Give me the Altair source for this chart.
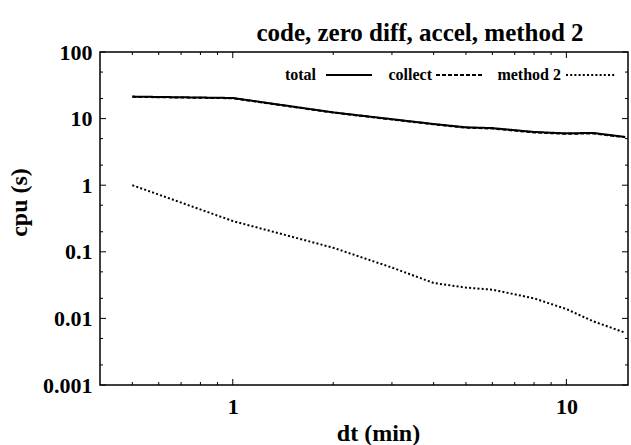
import altair as alt
import pandas as pd

# ---- data ----
dt = [0.5, 1, 2, 3, 4, 5, 6, 8, 10, 12, 15]
total = [21.4, 20.4, 12.4, 9.8, 8.3, 7.4, 7.2, 6.3, 6.0, 6.1, 5.3]
collect = [21.2, 20.2, 12.3, 9.7, 8.2, 7.3, 7.1, 6.2, 5.9, 6.0, 5.25]
method2 = [1.0, 0.29, 0.115, 0.058, 0.034, 0.029, 0.027, 0.020, 0.0138, 0.0091, 0.0061]
series = ["total", "collect", "method 2"]

x_major = [1, 10]
x_minor = [0.5, 0.6, 0.7, 0.8, 0.9, 2, 3, 4, 5, 6, 7, 8, 9]
y_major = [0.001, 0.01, 0.1, 1, 10, 100]
y_minor = [0.002, 0.005, 0.02, 0.05, 0.2, 0.5, 2, 5, 20, 50]

rows = []
for name, vals in zip(series, [total, collect, method2]):
    for d, v in zip(dt, vals):
        rows.append({"dt": d, "cpu": v, "series": name})
df = pd.DataFrame(rows)

W, H = 528, 333
FONT = "Liberation Serif"
X_DOM = [0.4, 15.3]
Y_DOM = [0.001, 100]
dash_range = [[1, 0], [4, 2], [2, 2.2]]

xs = alt.Scale(type="log", domain=X_DOM, nice=False)
ys = alt.Scale(type="log", domain=Y_DOM, nice=False)
x_axis = alt.Axis(values=x_major, format="~g", title="dt (min)", ticks=False,
                  domain=False, grid=False, labelPadding=11, titlePadding=4, titleX=278)
y_axis = alt.Axis(values=y_major, format="~g", title="cpu (s)", ticks=False,
                  domain=False, grid=False, labelPadding=8,
                  titleX=-81, titleY=150, titleBaseline="middle")

lines = alt.Chart(df).mark_line(color="black", strokeWidth=2, strokeCap="butt", clip=True).encode(
    x=alt.X("dt:Q", scale=xs, axis=x_axis),
    y=alt.Y("cpu:Q", scale=ys, axis=y_axis),
    strokeDash=alt.StrokeDash("series:N", scale=alt.Scale(domain=series, range=dash_range), legend=None),
    detail="series:N",
)

def tick_layer(vals, axis, length):
    d = pd.DataFrame({"v": vals})
    layers = []
    base = alt.Chart(d).mark_rule(color="black", strokeWidth=1)
    if axis == "x":
        xe = alt.X("v:Q", scale=xs, axis=x_axis)
        layers.append(base.encode(x=xe, y=alt.value(H), y2=alt.value(H - length)))
        layers.append(base.encode(x=xe, y=alt.value(0), y2=alt.value(length)))
    else:
        ye = alt.Y("v:Q", scale=ys, axis=y_axis)
        layers.append(base.encode(y=ye, x=alt.value(0), x2=alt.value(length)))
        layers.append(base.encode(y=ye, x=alt.value(W), x2=alt.value(W - length)))
    return layers

ticks = []
ticks += tick_layer(x_major, "x", 6)
ticks += tick_layer(x_minor, "x", 3)
ticks += tick_layer(y_major, "y", 6)
ticks += tick_layer(y_minor, "y", 3)

# ---- key (label followed by sample line, as in the reference) ----
key_text_right = [216, 332, 461]
key_line = [(226, 272), (336, 382), (466, 516)]
key_y = 23
key_layers = []
for i, name in enumerate(series):
    kd = pd.DataFrame({"label": [name]})
    key_layers.append(
        alt.Chart(kd).mark_text(align="right", baseline="middle", font=FONT, fontWeight="bold",
                                fontSize=16, color="black")
        .encode(text="label:N", x=alt.value(key_text_right[i]), y=alt.value(key_y))
    )
    key_layers.append(
        alt.Chart(kd).mark_rule(color="black", strokeWidth=2, strokeDash=dash_range[i], strokeCap="butt")
        .encode(x=alt.value(key_line[i][0]), x2=alt.value(key_line[i][1]), y=alt.value(key_y))
    )

chart = alt.layer(lines, *ticks, *key_layers).properties(
    width=W, height=H,
    background="white",
    title=alt.TitleParams("code, zero diff, accel, method 2", font=FONT, fontWeight="bold",
                          fontSize=25, color="black", anchor="middle", dx=56, dy=13, offset=8),
    autosize=alt.AutoSizeParams(type="none"),
    padding={"left": 100, "top": 52, "right": 3, "bottom": 60},
).configure_view(
    stroke="black", strokeWidth=1.5
).configure_axis(
    labelFont=FONT, labelFontWeight="bold", labelFontSize=22, labelColor="black",
    titleFont=FONT, titleFontWeight="bold", titleFontSize=24, titleColor="black",
)

chart.save("out.html", embed_options={"renderer": "svg", "actions": False})
